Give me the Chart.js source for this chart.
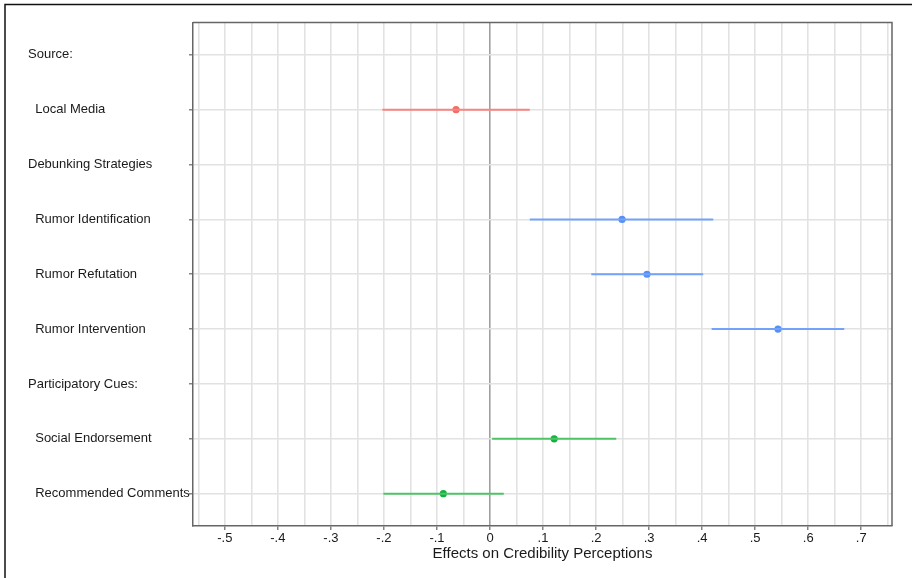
<!DOCTYPE html>
<html>
<head>
<meta charset="utf-8">
<script src="https://cdn.jsdelivr.net/npm/chart.js@4.4.0/dist/chart.umd.min.js"></script>
<style>
    body { margin: 0; background: #fff; }
    #wrap { width: 912px; height: 578px; position: relative; }
</style>
</head>
<body>
<div id="wrap"><canvas id="chart"></canvas></div>
<script>
// filas del eje y (las que empiezan con espacios van sangradas)
const rowLabels = [
    "Source:",
    "  Local Media",
    "Debunking Strategies",
    "  Rumor Identification",
    "  Rumor Refutation",
    "  Rumor Intervention",
    "Participatory Cues:",
    "  Social Endorsement",
    "  Recommended Comments"
];

// coeficientes e intervalos de confianza
const effectRows = [1, 3, 4, 5, 7, 8];
const estimates = [-0.064, 0.249, 0.296, 0.543, 0.121, -0.088];
const lower = [-0.203, 0.075, 0.191, 0.418, 0.004, -0.201];
const upper = [0.075, 0.421, 0.402, 0.668, 0.238, 0.026];
const groups = ["source", "debunk", "debunk", "debunk", "cues", "cues"];

// etiquetas del eje x
const xTickValues = [-0.5, -0.4, -0.3, -0.2, -0.1, 0, 0.1, 0.2, 0.3, 0.4, 0.5, 0.6, 0.7];
const xTickLabels = ["-.5", "-.4", "-.3", "-.2", "-.1", "0", ".1", ".2", ".3", ".4", ".5", ".6", ".7"];

const lineColors = { source: "#f7857f", debunk: "#72a2f9", cues: "#4fc467" };
const pointColors = { source: "#f56c65", debunk: "#5590f6", cues: "#10b33d" };

Chart.defaults.font.family = "'Liberation Sans', Arial, sans-serif";
Chart.defaults.color = "#1a1a1a";

const datasets = [];
estimates.forEach((est, i) => {
    datasets.push({
        data: [{ x: lower[i], y: effectRows[i] }, { x: upper[i], y: effectRows[i] }],
        showLine: true,
        borderColor: lineColors[groups[i]],
        borderWidth: 2,
        pointRadius: 0
    });
});
datasets.push({
    data: estimates.map((est, i) => ({ x: est, y: effectRows[i] })),
    pointRadius: 3.6,
    pointBackgroundColor: groups.map(g => pointColors[g]),
    pointBorderWidth: 0,
    showLine: false
});

// marco del área del gráfico y borde de la imagen
const framePlugin = {
    id: "frame",
    afterDraw(chart) {
        const { ctx, chartArea: a } = chart;
        ctx.save();
        ctx.strokeStyle = "#666";
        ctx.lineWidth = 1.5;
        ctx.beginPath();
        ctx.moveTo(a.left, a.top);
        ctx.lineTo(a.right, a.top);
        ctx.lineTo(a.right, a.bottom);
        ctx.stroke();
        ctx.strokeStyle = "#111";
        ctx.lineWidth = 1.5;
        ctx.beginPath();
        ctx.moveTo(5, 578);
        ctx.lineTo(5, 4.5);
        ctx.lineTo(912, 4.5);
        ctx.stroke();
        ctx.restore();
    }
};

const isMajor = v => xTickValues.some(t => Math.abs(t - v) < 1e-6);

new Chart(document.getElementById("chart"), {
    type: "scatter",
    data: { datasets },
    plugins: [framePlugin],
    options: {
        responsive: true,
        maintainAspectRatio: false,
        animation: false,
        layout: { padding: { left: 28, top: 22.5, right: 20, bottom: 0 } },
        plugins: { legend: { display: false }, tooltip: { enabled: false } },
        scales: {
            x: {
                type: "linear",
                min: -0.56,
                max: 0.758,
                afterBuildTicks: scale => {
                    const ticks = [];
                    for (let k = -11; k <= 15; k++) ticks.push({ value: k * 0.05 });
                    scale.ticks = ticks;
                },
                afterFit: scale => { scale.height = 52; },
                grid: {
                    color: ctx => (ctx.tick && Math.abs(ctx.tick.value) < 1e-6 ? "#a0a0a0" : "#e2e2e2"),
                    lineWidth: 1.6,
                    tickLength: 4,
                    tickColor: ctx => (ctx.tick && isMajor(ctx.tick.value) ? "#666" : "rgba(0,0,0,0)"),
                    tickWidth: 1.2
                },
                border: { display: true, color: "#666", width: 1.5 },
                ticks: {
                    autoSkip: false,
                    maxRotation: 0,
                    padding: 1,
                    font: { size: 13 },
                    callback: v => {
                        const i = xTickValues.findIndex(t => Math.abs(t - v) < 1e-6);
                        return i >= 0 ? xTickLabels[i] : "";
                    }
                },
                title: {
                    display: true,
                    text: "Effects on Credibility Perceptions",
                    font: { size: 15 },
                    color: "#1a1a1a",
                    padding: { top: 0, bottom: 15.5 }
                }
            },
            y: {
                type: "linear",
                reverse: true,
                min: -0.59,
                max: 8.59,
                afterBuildTicks: scale => {
                    scale.ticks = rowLabels.map((l, i) => ({ value: i }));
                },
                afterFit: scale => { scale.width = 165; },
                grid: {
                    color: "#e2e2e2",
                    lineWidth: 1.6,
                    tickLength: 4,
                    tickColor: "#666",
                    tickWidth: 1.2
                },
                border: { display: true, color: "#666", width: 1.5 },
                ticks: {
                    autoSkip: false,
                    crossAlign: "far",
                    font: { size: 13 },
                    callback: v => rowLabels[Math.round(v)]
                }
            }
        }
    }
});
</script>
</body>
</html>
